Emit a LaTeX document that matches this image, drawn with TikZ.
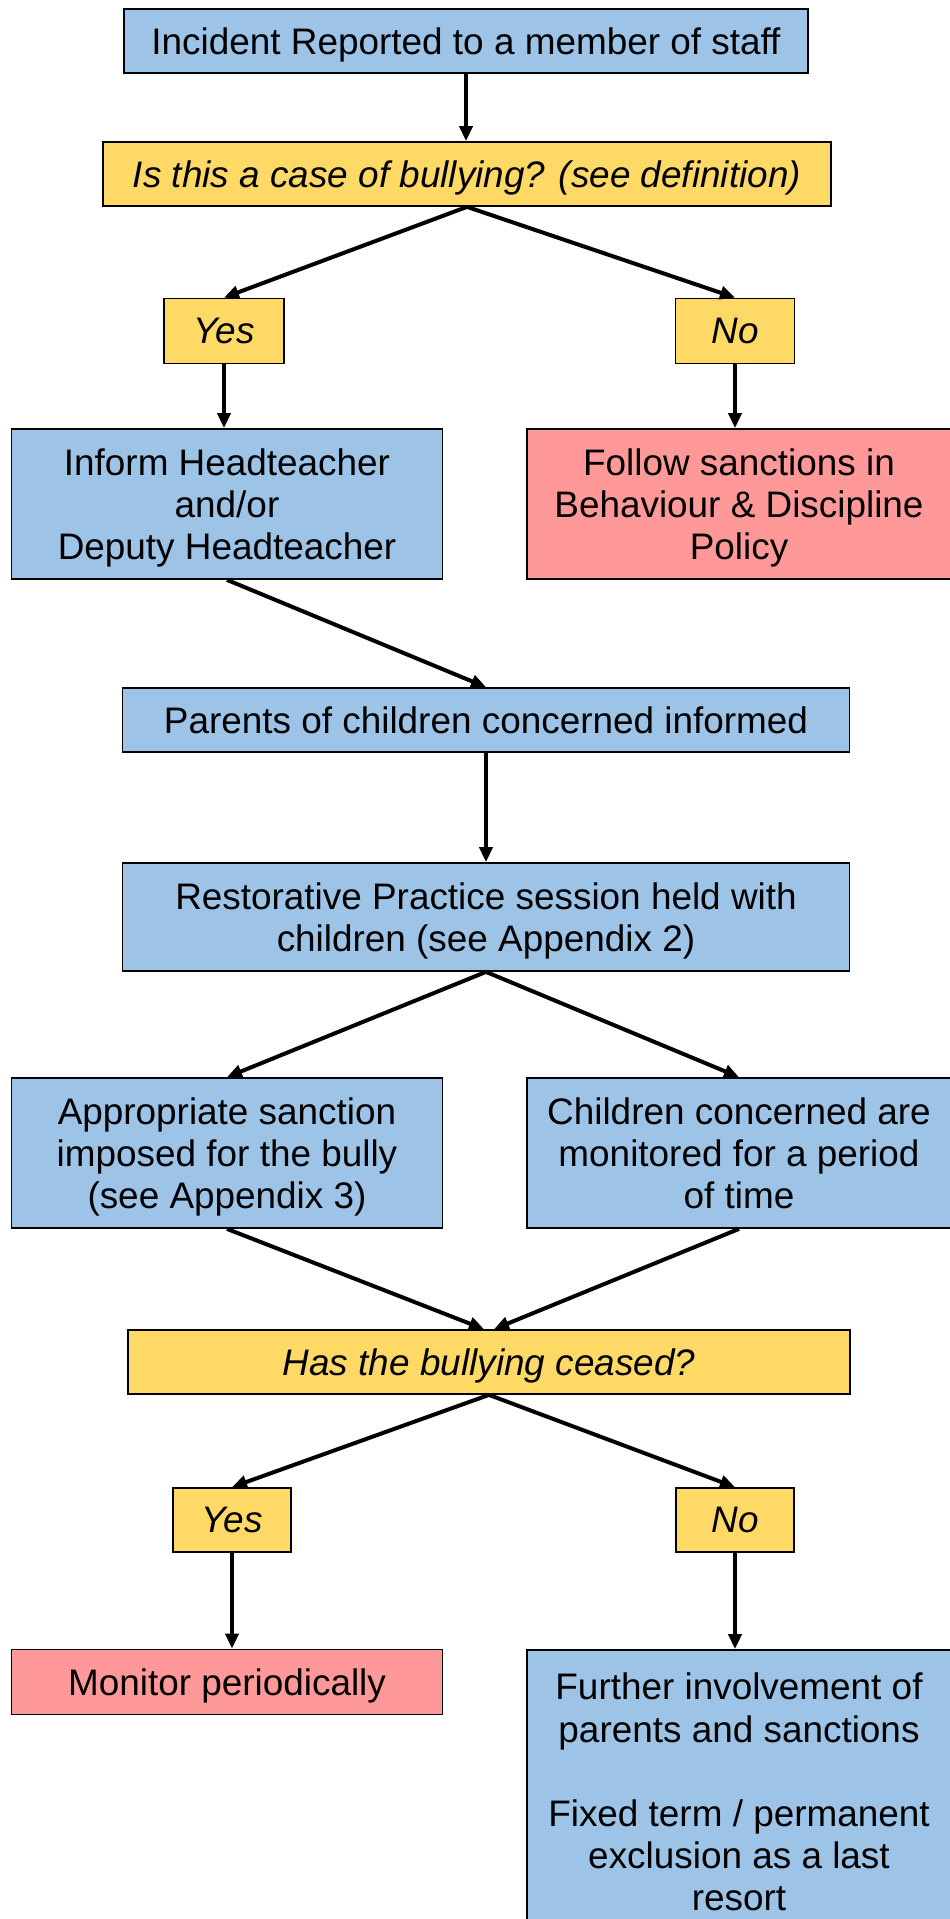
\documentclass[tikz,border=0pt]{standalone}
\usepackage{fontspec}
\setmainfont{Liberation Sans}
\usepackage{tikz}
\usetikzlibrary{arrows.meta}

\definecolor{boxblue}{RGB}{157,195,230}
\definecolor{boxyellow}{RGB}{255,217,102}
\definecolor{boxred}{RGB}{255,153,153}

\begin{document}
\begin{tikzpicture}[x=0.2mm, y=-0.2mm,
				   every node/.style={rectangle, draw=black, line width=0.35mm, align=center, inner sep=0pt,
				                      text depth=0pt, font=\fontsize{21}{24}\selectfont},
				   box/.style 2 args={minimum width=#1*0.2mm, minimum height=#2*0.2mm},
				   action/.style={fill=boxblue},
				   question/.style={fill=boxyellow, font=\fontsize{21}{24}\selectfont\itshape},
				   stop/.style={fill=boxred},
				   flow/.style={-{Triangle[length=3mm, width=2.6mm]}, line width=0.8mm}]
\useasboundingbox (0,0) rectangle (949,1919);

\node[action, box={684}{64}] (incident) at (466,41) {Incident Reported to a member of staff};
\node[question, box={728}{64}] (isbully) at (467,174) {Is this a case of bullying? (see definition)};
\node[question, box={120}{65}] (yes1) at (224,331) {Yes};
\node[question, box={119}{65}] (no1) at (735,331) {No};
\node[action, box={431}{150}] (inform) at (227,504) {Inform Headteacher\\and/or\\Deputy Headteacher};
\node[stop, box={424}{150}] (follow) at (739,504) {Follow sanctions in\\Behaviour \& Discipline\\Policy};
\node[action, box={727}{64}] (parents) at (486,720) {Parents of children concerned informed};
\node[action, box={727}{108}] (restorative) at (486,917) {Restorative Practice session held with\\children (see Appendix 2)};
\node[action, box={431}{150}] (sanction) at (227,1153) {Appropriate sanction\\imposed for the bully\\(see Appendix 3)};
\node[action, box={424}{150}] (monitored) at (739,1153) {Children concerned are\\monitored for a period\\of time};
\node[question, box={722}{64}] (ceased) at (489,1362) {Has the bullying ceased?};
\node[question, box={118}{64}] (yes2) at (232,1520) {Yes};
\node[question, box={118}{64}] (no2) at (735,1520) {No};
\node[stop, box={431}{65}] (periodic) at (227,1682) {Monitor periodically};
\node[action, box={424}{284}] (further) at (739,1792) {Further involvement of\\parents and sanctions\\[24pt]Fixed term / permanent\\exclusion as a last\\resort};

% connectors
\draw[flow] (incident.south) -- (incident.south |- isbully.north);
\draw[flow] (isbully.south) -- (yes1.north);
\draw[flow] (isbully.south) -- (no1.north);
\draw[flow] (yes1.south) -- (yes1.south |- inform.north);
\draw[flow] (no1.south) -- (no1.south |- follow.north);
\draw[flow] (inform.south) -- (parents.north);
\draw[flow] (parents.south) -- (parents.south |- restorative.north);
\draw[flow] (restorative.south) -- (sanction.north);
\draw[flow] (restorative.south) -- (monitored.north);
\draw[flow] (sanction.south) -- ([xshift=-1mm]ceased.north);
\draw[flow] (monitored.south) -- ([xshift=1mm]ceased.north);
\draw[flow] (ceased.south) -- (yes2.north);
\draw[flow] (ceased.south) -- (no2.north);
\draw[flow] (yes2.south) -- (yes2.south |- periodic.north);
\draw[flow] (no2.south) -- (no2.south |- further.north);
\end{tikzpicture}
\end{document}
